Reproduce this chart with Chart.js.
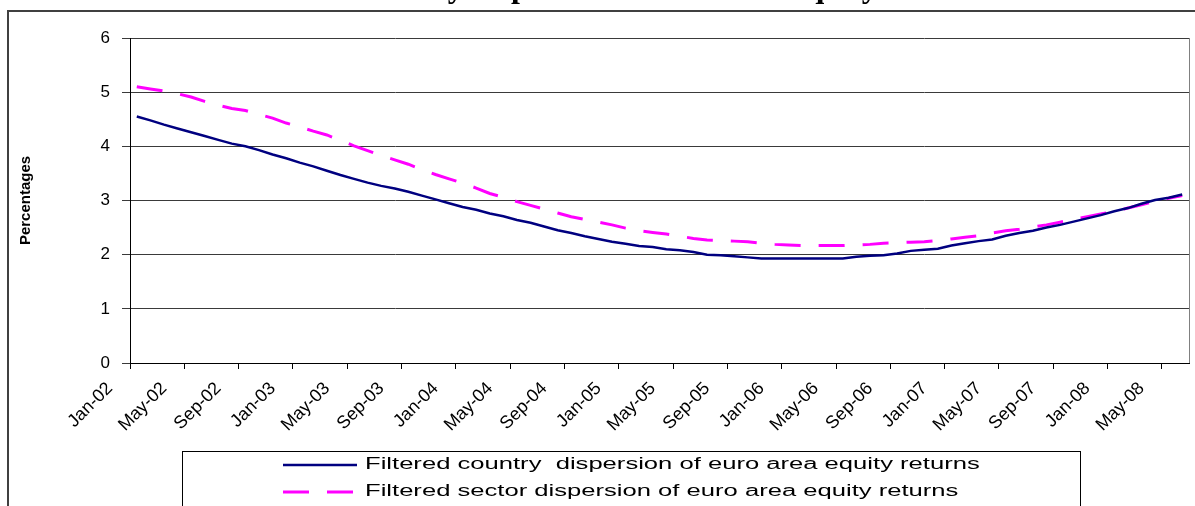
<!DOCTYPE html>
<html>
<head>
<meta charset="utf-8">
<script src="https://cdn.jsdelivr.net/npm/chart.js@4.4.1/dist/chart.umd.min.js"></script>
<style>
  html, body { margin: 0; padding: 0; background: #fff; }
  #wrap { position: relative; width: 1195px; height: 506px; overflow: hidden; }
  #chart { position: absolute; left: 0; top: -30px; }
</style>
</head>
<body>
<div id="wrap"><canvas id="chart" width="1195" height="536"></canvas></div>
<script>
// ---- data ----
const chartTitle = 'Sector and country dispersion of euro area equity returns';
const monthNames = ['Jan', 'Feb', 'Mar', 'Apr', 'May', 'Jun', 'Jul', 'Aug', 'Sep', 'Oct', 'Nov', 'Dec'];
const years = ['02', '03', '04', '05', '06', '07', '08'];
const lastMonth = 'Jun-08';
const tickEvery = 4; // a labelled tick every 4 months
const yTicks = [0, 1, 2, 3, 4, 5, 6];

const categories = [];
years.forEach(y => monthNames.forEach(m => {
  if (!categories.includes(lastMonth)) categories.push(m + '-' + y);
}));

const countryDispersion = [
  4.55, 4.48, 4.40, 4.33, 4.26, 4.19, 4.12, 4.05, 4.00, 3.93,
  3.85, 3.78, 3.70, 3.63, 3.55, 3.47, 3.40, 3.33, 3.27, 3.22,
  3.16, 3.09, 3.02, 2.95, 2.88, 2.83, 2.76, 2.71, 2.64, 2.59,
  2.52, 2.45, 2.40, 2.34, 2.29, 2.24, 2.20, 2.16, 2.14, 2.10,
  2.08, 2.05, 2.00, 1.99, 1.97, 1.95, 1.93, 1.93, 1.93, 1.93,
  1.93, 1.93, 1.93, 1.96, 1.98, 1.99, 2.02, 2.07, 2.09, 2.11,
  2.17, 2.21, 2.25, 2.28, 2.35, 2.40, 2.44, 2.50, 2.55, 2.61,
  2.67, 2.73, 2.80, 2.86, 2.94, 3.01, 3.05, 3.11
];

const sectorDispersion = [
  5.10, 5.06, 5.02, 4.97, 4.91, 4.83, 4.76, 4.70, 4.66, 4.59,
  4.52, 4.43, 4.36, 4.28, 4.21, 4.11, 4.01, 3.92, 3.83, 3.75,
  3.67, 3.57, 3.48, 3.40, 3.32, 3.23, 3.13, 3.06, 2.98, 2.91,
  2.84, 2.77, 2.70, 2.65, 2.60, 2.55, 2.49, 2.44, 2.41, 2.38,
  2.34, 2.30, 2.27, 2.26, 2.25, 2.24, 2.21, 2.19, 2.18, 2.17,
  2.17, 2.17, 2.17, 2.18, 2.19, 2.21, 2.22, 2.23, 2.24, 2.26,
  2.29, 2.32, 2.35, 2.40, 2.44, 2.47, 2.51, 2.55, 2.60, 2.65,
  2.70, 2.75, 2.80, 2.86, 2.92, 2.99, 3.04, 3.09
];

Chart.defaults.font.family = "'Liberation Sans', Arial, sans-serif";
Chart.defaults.color = '#000';

// outer frame + right edge of the plot area
const framePlugin = {
  id: 'frame',
  beforeDraw(chart) {
    const { ctx, chartArea } = chart;
    ctx.save();
    ctx.strokeStyle = '#404040';
    ctx.lineWidth = 2;
    ctx.beginPath();
    ctx.moveTo(8, chart.height);
    ctx.lineTo(8, 41);
    ctx.lineTo(chart.width, 41);
    ctx.stroke();
    ctx.strokeStyle = '#808080';
    ctx.lineWidth = 1;
    ctx.beginPath();
    ctx.moveTo(chartArea.right + 0.5, chartArea.top);
    ctx.lineTo(chartArea.right + 0.5, chartArea.bottom);
    ctx.stroke();
    ctx.restore();
  }
};

// boxed legend, Excel style
const boxLegend = {
  id: 'boxLegend',
  afterDraw(chart) {
    const { ctx } = chart;
    ctx.save();
    ctx.strokeStyle = '#000';
    ctx.lineWidth = 1;
    ctx.strokeRect(182.5, 481.5, 898, 120);
    chart.data.datasets.forEach((ds, i) => {
      const y = 495 + i * 27;
      ctx.strokeStyle = ds.borderColor;
      ctx.lineWidth = ds.borderWidth;
      ctx.setLineDash(ds.borderDash || []);
      ctx.beginPath();
      ctx.moveTo(283, y);
      ctx.lineTo(357, y);
      ctx.stroke();
      ctx.setLineDash([]);
      ctx.save();
      ctx.translate(365, y);
      ctx.scale(1.6, 1);
      ctx.fillStyle = '#000';
      ctx.font = "16px 'Liberation Sans', Arial, sans-serif";
      ctx.textBaseline = 'middle';
      ctx.fillText(ds.label, 0, 0);
      ctx.restore();
    });
    ctx.restore();
  }
};

new Chart(document.getElementById('chart'), {
  type: 'line',
  data: {
    labels: categories,
    datasets: [
      {
        label: 'Filtered country  dispersion of euro area equity returns',
        data: countryDispersion,
        borderColor: '#000080',
        borderWidth: 2.5,
        pointRadius: 0,
        tension: 0
      },
      {
        label: 'Filtered sector dispersion of euro area equity returns',
        data: sectorDispersion,
        borderColor: '#ff00ff',
        borderWidth: 3,
        borderDash: [26, 18],
        pointRadius: 0,
        tension: 0
      }
    ]
  },
  options: {
    responsive: false,
    animation: false,
    layout: { padding: { left: 0, right: 6, top: 0, bottom: 0 } },
    plugins: {
      legend: { display: false },
      tooltip: { enabled: false },
      title: {
        display: true,
        text: chartTitle,
        color: '#000',
        font: { family: "'Liberation Serif', 'Times New Roman', serif", size: 32, weight: 'bold' },
        padding: { top: 0, bottom: 29.6 }
      }
    },
    scales: {
      x: {
        type: 'category',
        offset: true,
        grid: {
          offset: true,
          drawOnChartArea: false,
          tickLength: 6,
          color: c => c.index % tickEvery === 0 ? '#000' : 'rgba(0,0,0,0)'
        },
        border: { color: '#000', width: 1 },
        ticks: {
          autoSkip: false,
          minRotation: 45,
          maxRotation: 45,
          labelOffset: -27,
          padding: 9,
          color: '#000',
          font: { size: 18 },
          callback(v, i) { return i % tickEvery === 0 ? this.getLabelForValue(v) : ''; }
        },
        afterFit(s) {
          s.height = 143;
          s.paddingLeft = 0;
          s.paddingRight = 0;
        }
      },
      y: {
        min: yTicks[0],
        max: yTicks[yTicks.length - 1],
        ticks: { stepSize: 1, padding: 12, color: '#000', font: { size: 17 } },
        grid: { color: '#3a3a3a', tickLength: 8 },
        border: { color: '#000' },
        title: {
          display: true,
          text: 'Percentages',
          color: '#000',
          font: { size: 15, weight: 'bold' },
          padding: { top: 17, bottom: 0 }
        },
        afterFit(s) { s.width = 130; }
      }
    }
  },
  plugins: [framePlugin, boxLegend]
});
</script>
</body>
</html>
